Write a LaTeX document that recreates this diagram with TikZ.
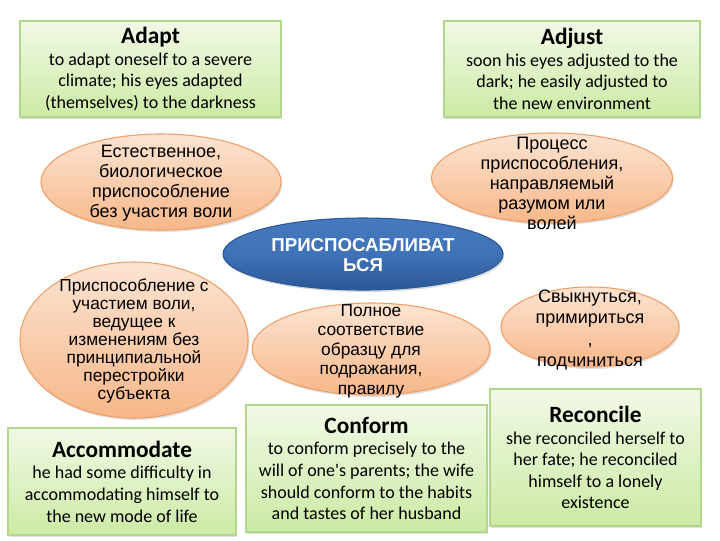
\documentclass[tikz,border=0pt]{standalone}
\usepackage{fontspec}
\newfontfamily\engfont{Carlito}
\newfontfamily\rufont{Liberation Sans}
\usetikzlibrary{shapes.geometric,shadows}
\definecolor{gtop}{HTML}{F1F9E6}
\definecolor{gbot}{HTML}{CCEAA4}
\definecolor{gline}{HTML}{B2D68C}
\definecolor{otop}{HTML}{FCE4D2}
\definecolor{obot}{HTML}{F7B789}
\definecolor{oline}{HTML}{F0A066}
\definecolor{btop}{HTML}{4679BE}
\definecolor{bmid}{HTML}{3F72B7}
\definecolor{bbot}{HTML}{2A5898}
\tikzset{
  gbox/.style={rectangle, draw=gline, line width=0.8pt, top color=gtop, bottom color=gbot,
    inner sep=0pt, align=center, text=black,
    font=\engfont\fontsize{13.5}{16.2}\selectfont,
    drop shadow={shadow xshift=1pt, shadow yshift=-1.5pt, opacity=0.25, fill=gray}},
  oell/.style={ellipse, draw=oline, line width=0.8pt, top color=otop, bottom color=obot,
    inner sep=0pt,
    drop shadow={shadow xshift=1pt, shadow yshift=-1.5pt, opacity=0.25, fill=gray}},
  bell/.style={ellipse, draw=bbot, line width=0.8pt, top color=btop, bottom color=bbot, middle color=bmid,
    inner sep=0pt,
    drop shadow={shadow xshift=1pt, shadow yshift=-1.5pt, opacity=0.3, fill=gray}},
  rtext/.style={align=center, inner sep=0pt, text=black, font=\rufont\fontsize{13.5}{15}\selectfont},
}
\newcommand{\ttl}[1]{{\fontsize{17.5}{18.5}\selectfont\bfseries #1}}
\begin{document}
\begin{tikzpicture}[x=0.75pt,y=-0.75pt]
\useasboundingbox (0,0) rectangle (720,540);
\fill[white] (0,0) rectangle (720,540);

% green boxes
\node[gbox, minimum width=195.75pt, minimum height=72pt] (adapt) at (150.5,69)
  {\ttl{Adapt}\\to adapt oneself to a severe\\climate; his eyes adapted\\(themselves) to the darkness};
\node[gbox, minimum width=192pt, minimum height=72pt] (adjust) at (572,69)
  {\ttl{Adjust}\\soon his eyes adjusted to the\\dark; he easily adjusted to\\the new environment};
\node[gbox, minimum width=171pt, minimum height=80.25pt] (accom) at (122,481.5)
  {\ttl{Accommodate}\\he had some difficulty in\\accommodating himself to\\the new mode of life};
\node[gbox, minimum width=180.75pt, minimum height=95.25pt] (conform) at (366.5,468.5)
  {\ttl{Conform}\\to conform precisely to the\\will of one's parents; the wife\\should conform to the habits\\and tastes of her husband};
\node[gbox, minimum width=158.25pt, minimum height=102.75pt] (recon) at (595.5,457.5)
  {\ttl{Reconcile}\\she reconciled herself to\\her fate; he reconciled\\himself to a lonely\\existence};

% orange ellipses
\node[oell, minimum width=180pt, minimum height=72pt] (e1) at (161,182) {};
\node[rtext] (t1) at (161,183) {Естественное,\\биологическое\\приспособление\\без участия воли};

\node[oell, minimum width=180.75pt, minimum height=67.5pt] (e2) at (552,178) {};
\node[rtext] (t2) at (552,183) {Процесс\\приспособления,\\направляемый\\разумом или\\волей};

\node[oell, minimum width=171pt, minimum height=117pt] (e3) at (134,340) {};
\node[rtext, font=\rufont\fontsize{13}{13.6}\selectfont] (t3) at (134,341) {Приспособление с\\участием воли,\\ведущее к\\изменениям без\\принципиальной\\перестройки\\субъекта};

\node[oell, minimum width=178.5pt, minimum height=69pt] (e4) at (371,349) {};
\node[rtext, font=\rufont\fontsize{13}{14.6}\selectfont] (t4) at (371,351) {Полное\\соответствие\\образцу для\\подражания,\\правилу};

\node[oell, minimum width=133.5pt, minimum height=60pt] (e5) at (590,327) {};
\node[rtext, font=\rufont\fontsize{13.5}{15.8}\selectfont] (t5) at (590,330) {Свыкнуться,\\примириться\\,\\подчиниться};

% blue central ellipse
\node[bell, minimum width=210pt, minimum height=54pt] (c) at (363,254) {};
\node[align=center, inner sep=0pt, text=white, font=\rufont\bfseries\fontsize{14}{15}\selectfont] (ct) at (363,255) {ПРИСПОСАБЛИВАТ\\ЬСЯ};
\end{tikzpicture}
\end{document}
